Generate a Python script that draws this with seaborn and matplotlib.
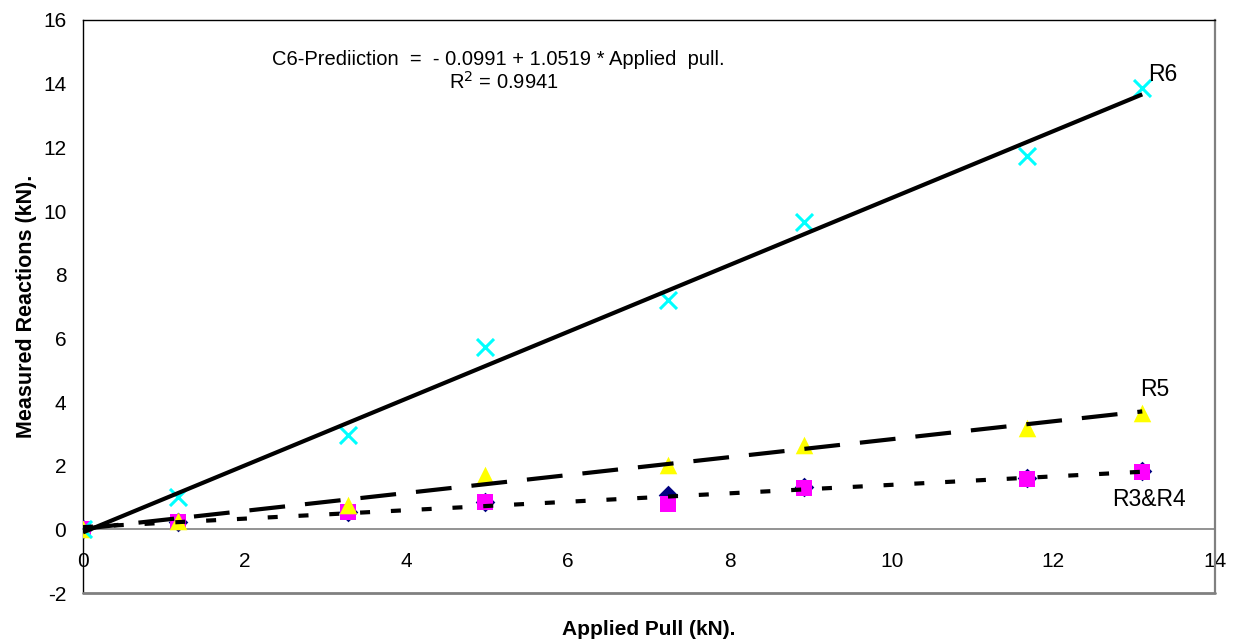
import numpy as np
import pandas as pd
import matplotlib
matplotlib.use("Agg")
import matplotlib.pyplot as plt
import seaborn as sns

# ---- data ----
applied_pull = [0, 1.17, 3.28, 4.97, 7.23, 8.92, 11.68, 13.1]
r3 = [0, 0.22, 0.56, 0.87, 1.07, 1.33, 1.60, 1.82]
r4 = [0, 0.22, 0.55, 0.85, 0.79, 1.30, 1.57, 1.79]
r5 = [0, 0.28, 0.78, 1.72, 2.03, 2.66, 3.20, 3.66]
r6 = [0, 1.02, 2.96, 5.72, 7.20, 9.65, 11.73, 13.85]

x_ticks = [0, 2, 4, 6, 8, 10, 12, 14]
y_ticks = [-2, 0, 2, 4, 6, 8, 10, 12, 14, 16]

sns.set_style("white")
plt.rcParams['font.family'] = ['Liberation Sans', 'DejaVu Sans']
plt.rcParams['text.color'] = 'black'
plt.rcParams['axes.labelcolor'] = 'black'

fig = plt.figure(figsize=(12.42, 6.44), dpi=100)
ax = fig.add_axes([0.0668, 0.079, 0.9115, 0.890])

df = pd.DataFrame({"x": applied_pull, "R3": r3, "R4": r4, "R5": r5, "R6": r6})

# markers (Excel default series styles)
sns.scatterplot(data=df, x="x", y="R3", marker="D", color="#000080", s=100,
                linewidth=0, ax=ax, zorder=3)
sns.scatterplot(data=df, x="x", y="R4", marker="s", color="#FF00FF", s=135,
                linewidth=0, ax=ax, zorder=3)
sns.scatterplot(data=df, x="x", y="R5", marker="^", color="#FFFF00", s=160,
                linewidth=0, ax=ax, zorder=3)
sns.scatterplot(data=df, x="x", y="R6", marker="x", color="#00FFFF", s=150,
                linewidth=2.2, ax=ax, zorder=3)

# trend lines
lw = 3.0
sns.regplot(data=df, x="x", y="R6", scatter=False, ci=None, truncate=True, ax=ax,
            line_kws=dict(color="black", lw=lw, zorder=4, solid_capstyle="butt"))
sns.regplot(data=df, x="x", y="R5", scatter=False, ci=None, truncate=True, ax=ax,
            line_kws=dict(color="black", lw=lw, zorder=4, linestyle=(0, (8.6, 4.8))))
df34 = pd.DataFrame({"x": applied_pull + applied_pull, "y": r3 + r4})
sns.regplot(data=df34, x="x", y="y", scatter=False, ci=None, truncate=True, ax=ax,
            line_kws=dict(color="black", lw=lw, zorder=4, linestyle=(0, (2.4, 5.0))))

ax.set_xlim(0, 14)
ax.set_ylim(-2, 16)
ax.set_xticks(x_ticks)
ax.set_yticks(y_ticks)
ax.set_xticklabels([str(t) for t in x_ticks])
ax.set_yticklabels([str(t) for t in y_ticks])

# spines
ax.spines['bottom'].set_position(('data', 0))
ax.spines['bottom'].set_color('#808080')
ax.spines['bottom'].set_linewidth(1.2)
ax.spines['left'].set_color('black')
ax.spines['left'].set_linewidth(1.0)
ax.spines['top'].set_color('black')
ax.spines['top'].set_linewidth(1.0)
ax.spines['right'].set_color('#808080')
ax.spines['right'].set_linewidth(1.6)
ax.axhline(-2, color='#808080', lw=2.0, clip_on=False, zorder=5)

ax.tick_params(axis='both', direction='out', length=5, width=1.0, color='black',
               labelsize=15, labelcolor='black')
ax.tick_params(axis='x', pad=11)
ax.tick_params(axis='y', pad=7)

ax.set_xlabel("Applied Pull (kN).", fontsize=15, fontweight='bold', color='black')
ax.set_ylabel("Measured Reactions (kN).", fontsize=15.5, fontweight='bold', color='black')
ax.xaxis.set_label_coords(0.5, -0.047)
ax.yaxis.set_label_coords(-0.0405, 0.5)

# annotations
ax.text(2.34, 14.75, "C6-Prediiction  =  - 0.0991 + 1.0519 * Applied  pull.",
        fontsize=14.5, ha='left', va='center', color='black')
ax.text(4.53, 14.05, "R$^2$ = 0.9941", fontsize=14.5, ha='left', va='center', color='black')
ax.text(13.17, 14.28, "R6", fontsize=16.5, ha='left', va='center', color='black')
ax.text(13.07, 4.4, "R5", fontsize=16.5, ha='left', va='center', color='black')
ax.text(12.73, 0.94, "R3&R4", fontsize=16.5, ha='left', va='center', color='black')

fig.savefig("out.png", dpi=100)
